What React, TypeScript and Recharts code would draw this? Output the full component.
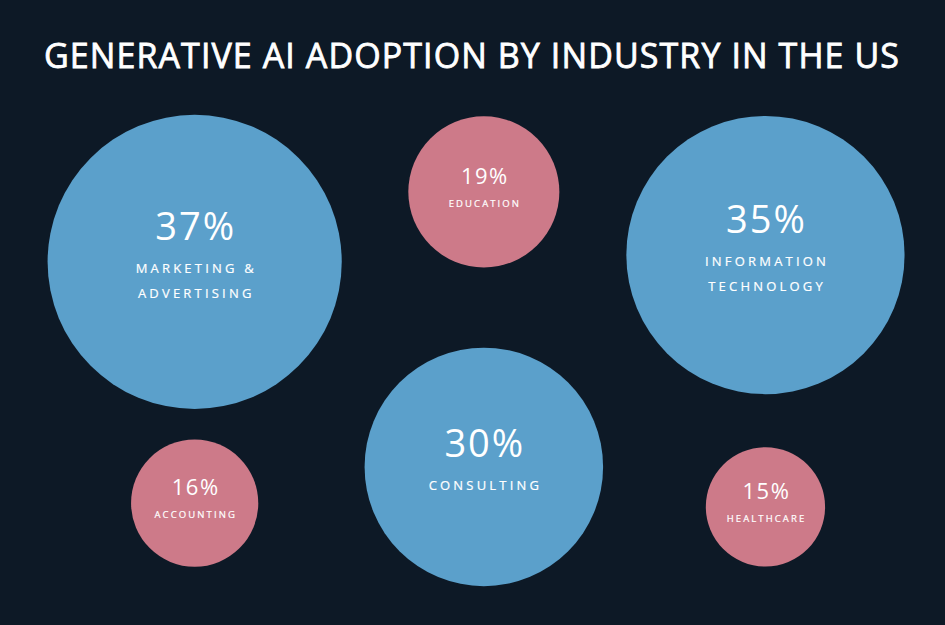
import React from "react";
import { ScatterChart, Scatter, XAxis, YAxis, ZAxis } from "recharts";

const TITLE = "GENERATIVE AI ADOPTION BY INDUSTRY IN THE US";
const industries = ["Marketing & Advertising", "Education", "Information Technology", "Consulting", "Accounting", "Healthcare"];
const labelLines = [["MARKETING &", "ADVERTISING"], ["EDUCATION"], ["INFORMATION", "TECHNOLOGY"], ["CONSULTING"], ["ACCOUNTING"], ["HEALTHCARE"]];
const adoption = [37, 19, 35, 30, 16, 15];
const posX = [20.6, 51.2, 81.0, 51.2, 20.6, 81.0];
const posY = [41.9, 30.7, 40.8, 74.7, 80.5, 81.1];

const BG = "#0d1926";
const BLUE = "#5ba0cb";
const PINK = "#cd7a89";
const FONT = "'Open Sans', 'Noto Sans', sans-serif";

const data = industries.map((name, i) => ({
  name,
  lines: labelLines[i],
  value: adoption[i],
  x: posX[i],
  y: posY[i],
}));

const Bubble = (props: any) => {
  const { cx, cy, payload } = props;
  const r: number = props.size;
  const big = payload.value >= 25;
  const lines: string[] = payload.lines;
  const gap = big ? 33 : 23;
  const lineGap = 25;
  const span = gap + (lines.length - 1) * lineGap;
  const c = big ? 7 : 3.5;
  const pctY = cy + c - span / 2;
  const pctSize = big ? 38 : 22;
  const lblSize = big ? 13 : 9.5;
  const lblSpacing = big ? 3.2 : 2.1;
  return (
    <g>
      <circle cx={cx} cy={cy} r={r} fill={big ? BLUE : PINK} />
      <text
        x={cx + 1}
        y={pctY}
        textAnchor="middle"
        fill="#ffffff"
        fontFamily={FONT}
        fontSize={pctSize}
        style={{ letterSpacing: big ? "2px" : "1.5px" }}
      >
        {payload.value}%
      </text>
      {lines.map((ln, j) => (
        <text
          key={j}
          x={cx + lblSpacing / 2}
          y={pctY + gap + j * lineGap}
          textAnchor="middle"
          fill="#ffffff"
          stroke="#ffffff"
          strokeWidth={0.2}
          fontFamily={FONT}
          fontSize={lblSize}
          style={{ letterSpacing: `${lblSpacing}px` }}
        >
          {ln}
        </text>
      ))}
    </g>
  );
};

export default function App() {
  return (
    <div style={{ position: "absolute", left: 0, top: 0, width: 945, height: 625, background: BG }}>
      <svg width={945} height={625} style={{ position: "absolute", left: 0, top: 0 }}>
        <text
          x={471.5}
          y={68}
          textAnchor="middle"
          fill="#ffffff"
          stroke="#ffffff"
          strokeWidth={0.8}
          fontFamily={FONT}
          fontSize={34}
          textLength={855}
          lengthAdjust="spacing"
        >
          {TITLE}
        </text>
      </svg>
      <div style={{ position: "absolute", left: 0, top: 0 }}>
        <ScatterChart width={945} height={625} margin={{ top: 0, right: 0, bottom: 0, left: 0 }}>
          <XAxis type="number" dataKey="x" domain={[0, 100]} hide />
          <YAxis type="number" dataKey="y" domain={[0, 100]} reversed hide />
          <ZAxis type="number" dataKey="value" domain={[0, 40]} range={[0, 159]} />
          <Scatter data={data} shape={Bubble} isAnimationActive={false} />
        </ScatterChart>
      </div>
    </div>
  );
}
